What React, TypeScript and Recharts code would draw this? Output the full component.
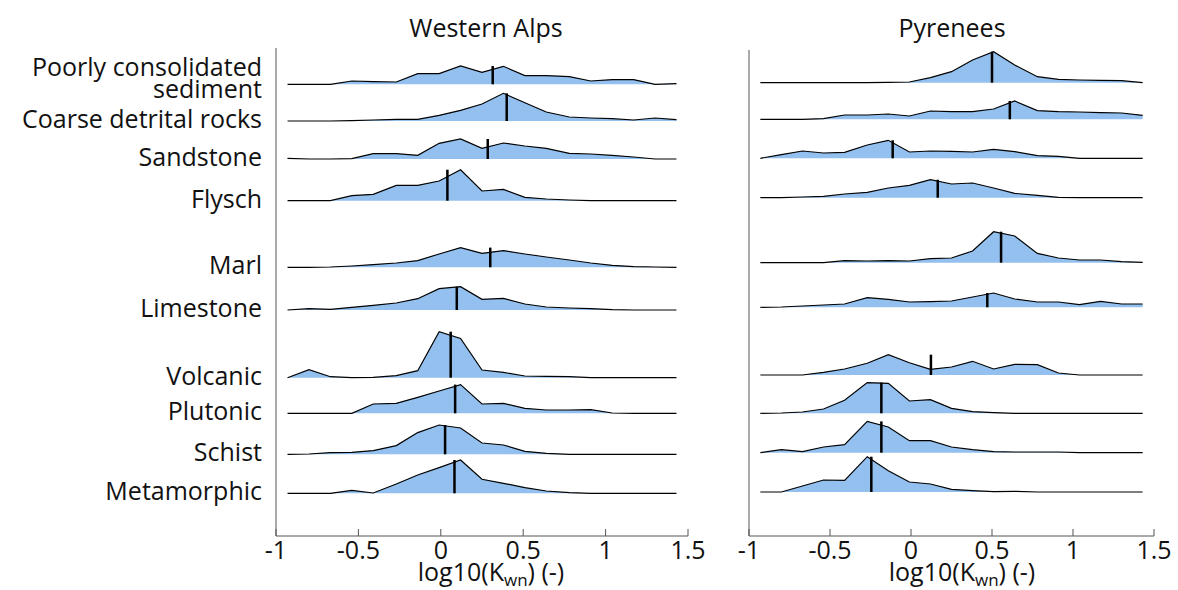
import React from 'react';
import { ComposedChart, Area, Line, XAxis, YAxis, ReferenceLine } from 'recharts';

const FONT = "'Open Sans', sans-serif";
const FILL = '#93c0ee';
const AXIS = '#555';

// lithology classes, top to bottom
const lithologies = [
  'Poorly consolidated\nsediment',
  'Coarse detrital rocks',
  'Sandstone',
  'Flysch',
  'Marl',
  'Limestone',
  'Volcanic',
  'Plutonic',
  'Schist',
  'Metamorphic',
];

// log10(Kwn) grid where the densities were evaluated
const gridX = [-0.93, -0.8, -0.67, -0.54, -0.41, -0.27, -0.14, -0.01, 0.12, 0.25, 0.38, 0.51, 0.64, 0.78, 0.91, 1.04, 1.17, 1.3, 1.43];
const xTicks = [-1, -0.5, 0, 0.5, 1, 1.5];

// density heights per lithology (same order as lithologies)
const alpsDensity = [
  [0, 0, 0, 3.3, 2.7, 2.3, 10.7, 10.7, 18.3, 12, 18, 8.7, 8.7, 7.7, 3.3, 4.7, 4.7, 0, 0.7],
  [0, 0, 0, 0.3, 1, 1.7, 1.7, 5.7, 10.7, 17, 27.7, 18.3, 9, 4, 3, 2.3, 1, 3, 1.3],
  [0.7, 0, 0, 0.3, 5.3, 5.3, 3.7, 15.7, 20, 10.7, 16, 13, 10.7, 5.7, 5, 3.7, 2, 0, 0],
  [0, 0, 0, 5, 6.3, 15.3, 15.3, 19.7, 31, 9.7, 11.3, 3.3, 1.7, 0.7, 0, 0, 0, 0, 0],
  [0, 0, 0.3, 1.3, 2.7, 4.3, 6.7, 13.3, 19.7, 14, 16.7, 13.3, 10.3, 7.3, 4.3, 2, 0.7, 0.3, 0],
  [0, 1.3, 0.7, 2.7, 4.7, 7, 11.3, 21.3, 23.3, 10.7, 11.7, 6, 3, 2, 1.3, 0.3, 0, 0, 0],
  [0, 8, 1, 0, 0.3, 2, 7, 46, 39.3, 7.7, 5.3, 1.7, 1.3, 1, 0, 0, 0, 0, 0],
  [0, 0, 0, 0, 9.3, 10, 16, 22.3, 28.7, 9.3, 10, 5, 3.3, 3.3, 3.7, 0.3, 0, 0, 0],
  [0, 0.3, 1.7, 2, 3.7, 8.7, 21.7, 29.3, 26.3, 11.3, 9.3, 3, 1, 0, 0, 0, 0, 0, 0],
  [0, 0, 0, 3, 0.3, 9.3, 18.3, 25.7, 33.3, 14, 10, 5.7, 2.3, 0.7, 0, 0, 0, 0, 0],
];
const pyreneesDensity = [
  [0, 0, 0, 0, 0, 0, 0.3, 0.7, 5, 11, 22.7, 31, 17.7, 6, 3.3, 2.7, 2.3, 2, 0],
  [0, 0, 0, 0.7, 4.3, 4.3, 5.3, 3.3, 8.3, 7.7, 7.7, 10.3, 18.3, 8.7, 7.7, 7.3, 6.7, 6.3, 4],
  [0, 3.7, 7.3, 5.3, 6, 13.3, 18, 6.3, 7.3, 7, 6.3, 9, 6.7, 2.7, 2, 0, 0, 0, 0],
  [0, 0, 0.7, 1.3, 3.7, 5.3, 9.7, 12.3, 18, 13.7, 14.7, 9.7, 4.3, 2.3, 0.3, 0, 0, 0, 0],
  [0, 0, 0, 0, 2, 1.7, 2, 1.7, 4, 4.7, 11.7, 31, 26.7, 9.3, 4.7, 2.7, 2.7, 1, 0.3],
  [0, 0.3, 1.3, 2.3, 3.3, 9.7, 8, 5.3, 5.7, 6.3, 10.3, 14.3, 8.3, 5.3, 5.3, 2.7, 6, 3.3, 3.3],
  [0, 0, 0, 2.7, 6, 11.7, 20.3, 12.3, 5.7, 8, 13.7, 6, 10.7, 10.3, 2, 0, 0, 0, 0],
  [0, 0.3, 1.3, 4.3, 13, 30.7, 30, 12.3, 13.7, 5, 1.7, 0.7, 0, 0, 0, 0, 0, 0, 0],
  [0, 3, 1, 5.7, 8, 31.3, 25.7, 12, 12, 5.7, 3, 1, 0.7, 0.7, 0.7, 0, 0, 0, 0],
  [0, 0, 6, 12, 11.7, 35.3, 21.3, 10, 8, 2.7, 1.3, 0.3, 0.7, 0, 0, 0, 0, 0, 0],
];

// medians of log10(Kwn)
const alpsMedian = [0.315, 0.4, 0.285, 0.04, 0.3, 0.097, 0.06, 0.087, 0.026, 0.083];
const pyreneesMedian = [0.5, 0.61, -0.113, 0.165, 0.556, 0.471, 0.123, -0.183, -0.183, -0.245];

// vertical placement of each ridge (height above the x axis)
const alpsRowBase = [451.7, 415, 377, 335.3, 268.7, 226, 158.3, 122.7, 81.7, 42.7];
const pyreneesRowBase = [453.3, 416.7, 377.7, 338.3, 273.3, 228.7, 161, 122.7, 83.3, 44];

function buildRows(density: number[][], offsets: number[]) {
  return gridX.map((x, i) => {
    const row: Record<string, any> = { x };
    density.forEach((h, r) => {
      row[`band${r}`] = [offsets[r], offsets[r] + h[i]];
      row[`top${r}`] = offsets[r] + h[i];
    });
    return row;
  });
}

const LabelTick = (props: any) => {
  const { x, y, index } = props;
  const lines = lithologies[index].split('\n');
  const tx = x - 6;
  return (
    <text x={tx} y={y} textAnchor="end" fontSize={25} fontFamily={FONT} fill="#111">
      {lines.length === 1 ? (
        <tspan x={tx} dy={7}>{lines[0]}</tspan>
      ) : (
        lines.map((l, i) => (
          <tspan key={i} x={tx} dy={i === 0 ? -8 : 22}>{l}</tspan>
        ))
      )}
    </text>
  );
};

interface PanelProps {
  density: number[][];
  medians: number[];
  offsets: number[];
  left: number;
  width: number;
  top: number;
  right: number;
  axisWidth: number;
  showLabels: boolean;
}

function Panel({ density, medians, offsets, left, width, top, right, axisWidth, showLabels }: PanelProps) {
  const data = buildRows(density, offsets);
  return (
    <div style={{ position: 'absolute', left, top: 0 }}>
      <ComposedChart width={width} height={590} data={data} margin={{ top, right, bottom: 24, left: 0 }}>
        <XAxis
          type="number"
          dataKey="x"
          domain={[-1, 1.5]}
          ticks={xTicks}
          allowDataOverflow
          interval={0}
          tickLine={false}
          tickSize={5}
          tickMargin={0}
          stroke={AXIS}
          tick={{ fill: '#111', fontSize: 25, fontFamily: FONT }}
          tickFormatter={(v) => String(v)}
          height={30}
        />
        <YAxis
          type="number"
          domain={[0, 536 - top]}
          ticks={offsets}
          interval={0}
          width={axisWidth}
          tickLine={false}
          stroke={AXIS}
          tick={showLabels ? (p: any) => <LabelTick {...p} /> : false}
        />
        {density.map((_, r) => (
          <Area
            key={`a${r}`}
            dataKey={`band${r}`}
            type="linear"
            stroke="none"
            fill={FILL}
            fillOpacity={1}
            isAnimationActive={false}
            activeDot={false}
          />
        ))}
        {density.map((_, r) => (
          <Line
            key={`l${r}`}
            dataKey={`top${r}`}
            type="linear"
            stroke="#000"
            strokeWidth={1.2}
            dot={false}
            activeDot={false}
            isAnimationActive={false}
          />
        ))}
        {medians.map((m, r) => (
          <ReferenceLine
            key={`m${r}`}
            segment={[{ x: m, y: offsets[r] }, { x: m, y: offsets[r] + Math.max(...density[r]) }]}
            stroke="#000"
            strokeWidth={2.5}
          />
        ))}
        {xTicks.map((t) => (
          <ReferenceLine key={`t${t}`} segment={[{ x: t, y: 0 }, { x: t, y: 7 }]} stroke={AXIS} strokeWidth={1} />
        ))}
      </ComposedChart>
    </div>
  );
}

export default function App() {
  return (
    <div style={{ position: 'absolute', left: 0, top: 0, width: 1178, height: 590, background: '#fff', overflow: 'hidden' }}>
      <Panel density={alpsDensity} medians={alpsMedian} offsets={alpsRowBase} left={0} width={720} top={48} right={32} axisWidth={276} showLabels />
      <Panel density={pyreneesDensity} medians={pyreneesMedian} offsets={pyreneesRowBase} left={700} width={478} top={50} right={24} axisWidth={49} showLabels={false} />
      <svg width={1178} height={590} style={{ position: 'absolute', left: 0, top: 0, pointerEvents: 'none' }}>
        <g fontFamily={FONT} fontSize={25} fill="#111" textAnchor="middle">
          <text x={486} y={37}>Western Alps</text>
          <text x={952} y={37}>Pyrenees</text>
          <text x={491} y={581}>
            log10(K<tspan fontSize={17} dy={5}>wn</tspan><tspan dy={-5}>) (-)</tspan>
          </text>
          <text x={962} y={581}>
            log10(K<tspan fontSize={17} dy={5}>wn</tspan><tspan dy={-5}>) (-)</tspan>
          </text>
        </g>
      </svg>
    </div>
  );
}
